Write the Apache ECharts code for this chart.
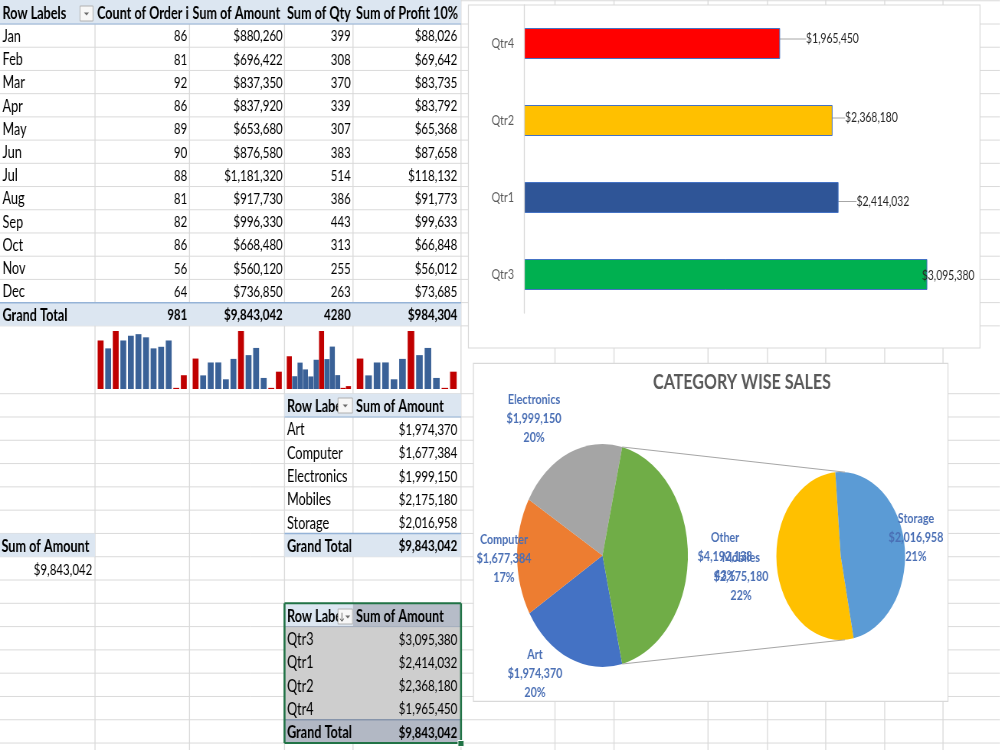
<!DOCTYPE html>
<html>
<head>
<meta charset="utf-8">
<title>Sales dashboard</title>
<script src="https://cdn.jsdelivr.net/npm/echarts/dist/echarts.min.js"></script>
<style>
  html, body { margin: 0; padding: 0; background: #fff; overflow: hidden; }
  /* the reference screenshot is squeezed horizontally, so the whole sheet is drawn wide and scaled */
  #sheet { width: 1306px; height: 750px; transform: scaleX(0.766); transform-origin: 0 0; }
</style>
</head>
<body>
<div id="sheet"></div>
<script>
// ---- data ----
const months = ['Jan', 'Feb', 'Mar', 'Apr', 'May', 'Jun', 'Jul', 'Aug', 'Sep', 'Oct', 'Nov', 'Dec']
const orderCount = [86, 81, 92, 86, 89, 90, 88, 81, 82, 86, 56, 64]
const amount = [880260, 696422, 837350, 837920, 653680, 876580, 1181320, 917730, 996330, 668480, 560120, 736850]
const qty = [399, 308, 370, 339, 307, 383, 514, 386, 443, 313, 255, 263]
const profit = [88026, 69642, 83735, 83792, 65368, 87658, 118132, 91773, 99633, 66848, 56012, 73685]
const monthHeaders = ['Row Labels', 'Count of Order id', 'Sum of Amount', 'Sum of Qty', 'Sum of Profit 10%']

const categories = ['Art', 'Computer', 'Electronics', 'Mobiles', 'Storage']
const categoryAmount = [1974370, 1677384, 1999150, 2175180, 2016958]
const otherGroup = ['Mobiles', 'Storage'] // these go to the second pie

const quarters = ['Qtr3', 'Qtr1', 'Qtr2', 'Qtr4']
const quarterAmount = [3095380, 2414032, 2368180, 1965450]

// ---- layout helpers (positions measured on the 1000px wide picture) ----
const SX = 0.766
const X = v => v / SX
const FONT = 'Lato, "Open Sans", sans-serif'
const sum = a => a.reduce((s, v) => s + v, 0)
const money = v => '$' + v.toLocaleString('en-US')
const topRow = k => 24 + 23.22 * (k - 1)
const lowRow = j => 393.7 + 23.29 * j
const midTop = k => (topRow(k) + topRow(k + 1)) / 2 + 1
const midLow = j => (lowRow(j) + lowRow(j + 1)) / 2 + 1.5
const cols = [95, 189.5, 284.5, 353, 461, 555, 614, 708, 767.5, 825.7, 884.7, 943]

const els = []
function hline(x1, x2, y, color, w, z) {
  els.push({ type: 'line', z: z || 0, silent: true, shape: { x1: X(x1), y1: y, x2: X(x2), y2: y }, style: { stroke: color, lineWidth: w || 1 } })
}
function vline(x, y1, y2, color, w, z) {
  els.push({ type: 'line', z: z || 0, silent: true, shape: { x1: X(x), y1: y1, x2: X(x), y2: y2 }, style: { stroke: color, lineWidth: (w || 1) / SX } })
}
function fill(x1, x2, y1, y2, color, z) {
  els.push({ type: 'rect', z: z || 1, silent: true, shape: { x: X(x1), y: y1, width: X(x2) - X(x1), height: y2 - y1 }, style: { fill: color } })
}
function text(x, y, str, align, bold, extra) {
  // Calibri look: words a little larger than figures
  const size = /^[\d$]/.test(str) ? 15 : 16.5
  els.push({
    type: 'text', z: 1, silent: true, x: X(x), y: y,
    style: Object.assign({
      text: str, fill: '#000', fontSize: size, fontFamily: FONT, fontWeight: bold ? 'bold' : 'normal',
      align: align, textAlign: align, verticalAlign: 'middle', textVerticalAlign: 'middle'
    }, extra || {})
  })
}
function button(x1, y1, x2, y2, sortArrow) {
  els.push({ type: 'rect', z: 1, silent: true, shape: { x: X(x1), y: y1, width: X(x2) - X(x1), height: y2 - y1 }, style: { fill: '#f7f7f7', stroke: '#b0b0b0', lineWidth: 1 } })
  const cx = sortArrow ? (x1 + x2) / 2 + 2.5 : (x1 + x2) / 2
  const cy = (y1 + y2) / 2
  els.push({ type: 'polygon', z: 1, silent: true, shape: { points: [[X(cx - 2.5), cy - 1], [X(cx + 2.5), cy - 1], [X(cx), cy + 2]] }, style: { fill: '#6a6a6a' } })
  if (sortArrow) {
    text(x1 + 4, cy, '↓', 'center', false, { fontSize: 10, fill: '#444' })
  }
}

// ---- spreadsheet gridlines ----
const GRID = '#dadada'
for (let k = 0; k <= 14; k++) hline(0, 1000, topRow(k), GRID)
for (let j = 0; j <= 15; j++) hline(0, 1000, lowRow(j), GRID)
cols.forEach(x => vline(x, 0, 750, GRID))

// ---- pivot: months ----
const HDR = '#dce6f1', HDR_LINE = '#95b3d7'
fill(0, 461, 0, topRow(1), HDR)
hline(0, 461, topRow(1), HDR_LINE, 1, 1)
fill(0, 461, topRow(13), topRow(14), HDR)
hline(0, 461, topRow(13), HDR_LINE, 1.5, 1)
const headLeft = [2.5, 97, 192.5, 287, 356]
monthHeaders.forEach((h, i) => {
  text(headLeft[i], 13.4, h, 'left', true, i === 1 ? { width: X(95), overflow: 'truncate', ellipsis: '' } : null)
})
button(80, 6, 93, 21, false)
const rightEdge = [187.3, 282.7, 350.7, 457.3]
months.forEach((m, i) => {
  const y = midTop(i + 1)
  text(2.5, y, m, 'left', false)
  text(rightEdge[0], y, String(orderCount[i]), 'right', false)
  text(rightEdge[1], y, money(amount[i]), 'right', false)
  text(rightEdge[2], y, String(qty[i]), 'right', false)
  text(rightEdge[3], y, money(profit[i]), 'right', false)
})
const gtY = midTop(13)
text(2.5, gtY, 'Grand Total', 'left', true)
text(rightEdge[0], gtY, String(sum(orderCount)), 'right', true)
text(rightEdge[1], gtY, money(sum(amount)), 'right', true)
text(rightEdge[2], gtY, String(sum(qty)), 'right', true)
text(rightEdge[3], gtY, money(sum(profit)), 'right', true)

// ---- pivot: categories ----
fill(284.5, 461, lowRow(0), lowRow(1), HDR)
hline(284.5, 461, lowRow(1), HDR_LINE, 1, 1)
text(287, midLow(0), 'Row Labels', 'left', true)
button(338, 398, 352.5, 413, false)
text(356, midLow(0), 'Sum of Amount', 'left', true)
categories.forEach((c, i) => {
  text(287, midLow(i + 1), c, 'left', false)
  text(457.3, midLow(i + 1), money(categoryAmount[i]), 'right', false)
})
fill(284.5, 461, lowRow(6), lowRow(7), HDR)
hline(284.5, 461, lowRow(6), HDR_LINE, 1.5, 1)
text(287, midLow(6), 'Grand Total', 'left', true)
text(457.3, midLow(6), money(sum(categoryAmount)), 'right', true)

// single value pivot
fill(0, 95, lowRow(6), lowRow(7), HDR)
text(1.5, midLow(6), 'Sum of Amount', 'left', true)
text(92.3, midLow(7), money(sum(amount)), 'right', false)

// ---- pivot: quarters (selected range) ----
fill(284.5, 353, lowRow(9), lowRow(10), HDR)
fill(353, 461, lowRow(9), lowRow(10), '#b6bcc8')
fill(284.5, 461, lowRow(10), lowRow(14), '#cecece')
fill(284.5, 461, lowRow(14), lowRow(15), '#b2b8c4')
hline(284.5, 461, lowRow(10), '#a3adbd', 1, 1)
hline(284.5, 461, lowRow(14), '#8795ab', 1.5, 1)
text(287, midLow(9), 'Row Labels', 'left', true)
button(338, 609, 352.5, 624, true)
text(356, midLow(9), 'Sum of Amount', 'left', true)
quarters.forEach((q, i) => {
  text(287, midLow(10 + i), q, 'left', false)
  text(457.3, midLow(10 + i), money(quarterAmount[i]), 'right', false)
})
text(287, midLow(14), 'Grand Total', 'left', true)
text(457.3, midLow(14), money(sum(quarterAmount)), 'right', true)
hline(284.5, 461, lowRow(9), '#217346', 2, 1)
hline(284.5, 461, lowRow(15), '#217346', 2, 1)
vline(284.5, lowRow(9), lowRow(15), '#217346', 2, 1)
vline(461, lowRow(9), lowRow(15), '#217346', 2, 1)
els.push({ type: 'rect', z: 1, silent: true, shape: { x: X(458), y: 740.5, width: X(6), height: 6 }, style: { fill: '#217346', stroke: '#fff', lineWidth: 1 } })

// ---- chart boxes ----
els.push({ type: 'rect', z: 1, silent: true, shape: { x: X(468.4), y: 5, width: X(980) - X(468.4), height: 343 }, style: { fill: '#fff', stroke: '#d9d9d9', lineWidth: 1.2 } })
els.push({ type: 'rect', z: 1, silent: true, shape: { x: X(473.4), y: 363.4, width: X(948) - X(473.4), height: 338 }, style: { fill: '#fff', stroke: '#d9d9d9', lineWidth: 1.2 } })
els.push({
  type: 'text', z: 3, silent: true, x: X(742), y: 382,
  style: { text: 'CATEGORY WISE SALES', fill: '#595959', fontSize: 21, fontWeight: 'bold', fontFamily: FONT, align: 'center', textAlign: 'center', verticalAlign: 'middle', textVerticalAlign: 'middle' }
})

// ---- pie of pie ----
const grand = sum(categoryAmount)
function roundPercents(vals, total) {
  const raw = vals.map(v => v / total * 100)
  const out = raw.map(Math.floor)
  const left = 100 - sum(out)
  raw.map((r, i) => [r - out[i], i]).sort((a, b) => b[0] - a[0]).slice(0, left).forEach(p => { out[p[1]]++ })
  return out
}
const pctList = roundPercents(categoryAmount, grand)
const pctOf = name => name === 'Other'
  ? sum(otherGroup.map(c => pctList[categories.indexOf(c)]))
  : pctList[categories.indexOf(name)]

const pieColors = { Art: '#4472c4', Computer: '#ed7d31', Electronics: '#a5a5a5', Other: '#70ad47', Mobiles: '#ffc000', Storage: '#5b9bd5' }
const mainData = categories.filter(c => !otherGroup.includes(c))
  .map(c => ({ name: c, value: categoryAmount[categories.indexOf(c)] }))
const otherValue = sum(otherGroup.map(c => categoryAmount[categories.indexOf(c)]))
mainData.push({ name: 'Other', value: otherValue })
const subData = otherGroup.map(c => ({ name: c, value: categoryAmount[categories.indexOf(c)] }))
mainData.concat(subData).forEach(d => { d.itemStyle = { color: pieColors[d.name] } })

const halfOther = otherValue / grand * 180
const c1 = [X(602.5), 555.5], r1 = 111.5
const c2 = [X(840.7), 556], r2 = 84
const rad = d => d * Math.PI / 180
const edgeX = c1[0] + r1 * Math.cos(rad(halfOther))
const edgeDy = r1 * Math.sin(rad(halfOther))
const subX = c2[0] + r2 * Math.cos(rad(86.2))
const subDy = r2 * Math.sin(rad(86.2))
els.push({ type: 'line', z: 3, silent: true, shape: { x1: edgeX, y1: c1[1] - edgeDy, x2: subX, y2: c2[1] - subDy }, style: { stroke: '#a6a6a6', lineWidth: 1 } })
els.push({ type: 'line', z: 3, silent: true, shape: { x1: edgeX, y1: c1[1] + edgeDy, x2: subX, y2: c2[1] + subDy }, style: { stroke: '#a6a6a6', lineWidth: 1 } })

const mainLabelPos = [[535, 673], [504, 558], [534, 418], [725, 556.5]]
const subLabelPos = [[741, 576], [916, 537]]
const pieLabel = {
  show: true,
  formatter: p => p.name + '\n' + money(p.value) + '\n' + pctOf(p.name) + '%',
  color: '#4a6fb5', fontSize: 14, fontWeight: 'bold', fontFamily: FONT, lineHeight: 19, align: 'center'
}

// ---- sparklines ----
const sparkValues = [orderCount, amount, qty, profit]
const sparkBoxes = [[96.8, 187.6], [191.8, 282.6], [286.6, 351.1], [355.8, 457.6]]
const sparkGap = ['22%', '22%', '6%', '22%']
function sparkColor(vals) {
  const marks = [0, vals.length - 1, vals.indexOf(Math.max(...vals)), vals.indexOf(Math.min(...vals))]
  return p => marks.includes(p.dataIndex) ? '#c00000' : '#3a6197'
}

const grids = sparkBoxes.map(b => ({ left: X(b[0]), width: X(b[1]) - X(b[0]), top: 331, height: 58 }))
grids.push({ left: X(524), width: X(980) - X(524), top: 5, height: 308 })

const xAxes = sparkValues.map((v, i) => ({ gridIndex: i, type: 'category', data: months, show: false }))
const yAxes = sparkValues.map((v, i) => ({
  gridIndex: i, type: 'value', show: false, splitLine: { show: false },
  min: e => e.min - (e.max - e.min) * 0.02, max: 'dataMax'
}))
xAxes.push({ gridIndex: 4, type: 'value', min: 0, max: 3500000, show: false, splitLine: { show: false } })
yAxes.push({
  gridIndex: 4, type: 'category', data: quarters, z: 4,
  axisLine: { lineStyle: { color: '#d9d9d9', width: 1.3 } },
  axisTick: { length: 5, lineStyle: { color: '#d9d9d9' } },
  axisLabel: { color: '#595959', fontSize: 14, fontFamily: FONT, margin: 13 }
})

const quarterColors = { Qtr1: '#2f5597', Qtr2: '#ffc000', Qtr3: '#00b050', Qtr4: '#ff0000' }
// label shift from the default spot, [dx, dy] on the picture
const barLabelShift = [[-9.3, 1], [14.2, 4], [8.7, -2.5], [22.2, -4.5]]

const series = sparkValues.map((vals, i) => ({
  type: 'bar', xAxisIndex: i, yAxisIndex: i, data: vals,
  barCategoryGap: sparkGap[i], itemStyle: { color: sparkColor(vals) }, silent: true
}))
series.push({
  type: 'bar', xAxisIndex: 4, yAxisIndex: 4, barWidth: 31, silent: true,
  data: quarterAmount.map((v, i) => ({
    value: v,
    itemStyle: { color: quarterColors[quarters[i]] },
    labelLine: { show: i !== 0 }
  })),
  itemStyle: { borderColor: '#4472c4', borderWidth: 1 },
  label: { show: true, position: 'right', formatter: p => money(p.value), color: '#262626', fontSize: 13.5, fontFamily: FONT },
  labelLine: { show: true, lineStyle: { color: '#a6a6a6', width: 1 } },
  labelLayout: p => ({ dx: X(barLabelShift[p.dataIndex][0]), dy: barLabelShift[p.dataIndex][1] })
})
series.push({
  type: 'pie', center: c1, radius: r1, startAngle: 360 - halfOther, clockwise: true,
  data: mainData, avoidLabelOverlap: false, silent: true,
  label: pieLabel, labelLine: { show: false },
  labelLayout: p => ({ x: X(mainLabelPos[p.dataIndex][0]), y: mainLabelPos[p.dataIndex][1], align: 'center', verticalAlign: 'middle' })
})
series.push({
  type: 'pie', center: c2, radius: r2, startAngle: 281.6, clockwise: true,
  data: subData, avoidLabelOverlap: false, silent: true,
  label: pieLabel, labelLine: { show: false },
  labelLayout: p => ({ x: X(subLabelPos[p.dataIndex][0]), y: subLabelPos[p.dataIndex][1], align: 'center', verticalAlign: 'middle' })
})

const chart = echarts.init(document.getElementById('sheet'))
chart.setOption({
  animation: false,
  backgroundColor: '#fff',
  graphic: { elements: els },
  grid: grids,
  xAxis: xAxes,
  yAxis: yAxes,
  series: series
})
</script>
</body>
</html>
